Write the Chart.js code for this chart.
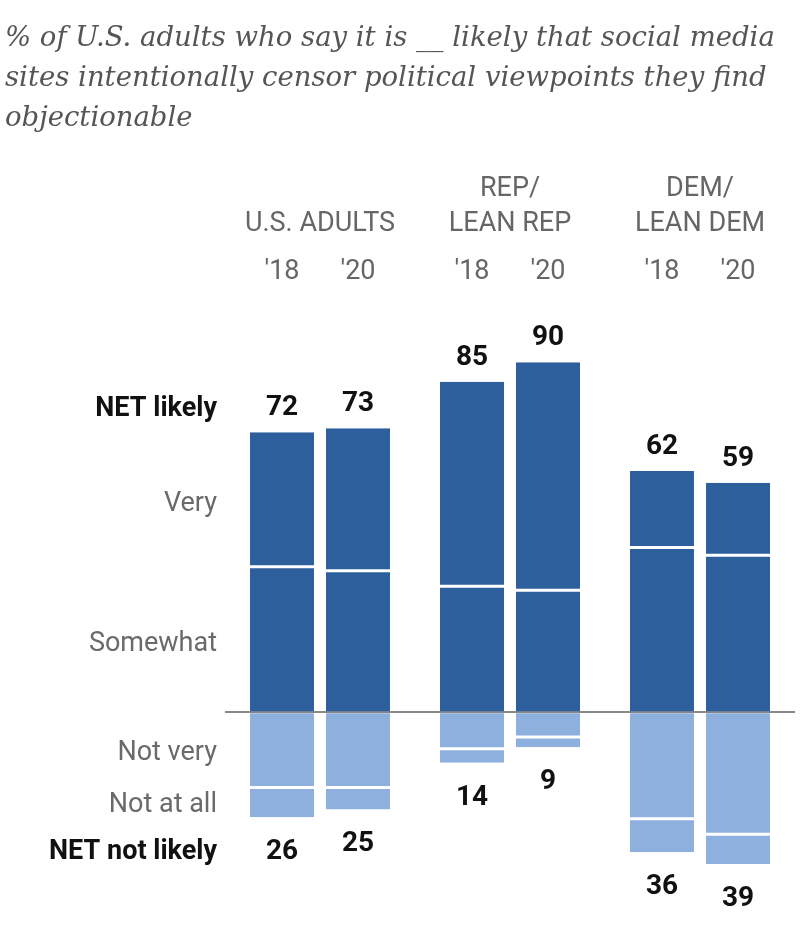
<!DOCTYPE html>
<html>
<head>
<meta charset="utf-8">
<script src="https://cdn.jsdelivr.net/npm/chart.js@4.4.1/dist/chart.umd.min.js"></script>
<style>
  html, body { margin: 0; padding: 0; background: #fff; }
  #wrap { width: 800px; height: 945px; }
</style>
</head>
<body>
<div id="wrap"><canvas id="myChart" width="800" height="945"></canvas></div>
<script>
// groups along the x axis, each one holds a '18 and a '20 column
const groups = [['U.S. ADULTS'], ['REP/', 'LEAN REP'], ['DEM/', 'LEAN DEM']];
const years = ["'18", "'20"];

// order of values: U.S. adults, Rep/lean Rep, Dem/lean Dem
const very18 = [35, 53, 20];
const somewhat18 = [37, 32, 42];
const notVery18 = [19, 9, 27];
const notAtAll18 = [8, 4, 9];
const very20 = [37, 59, 19];
const somewhat20 = [36, 31, 40];
const notVery20 = [19, 6, 31];
const notAtAll20 = [6, 3, 8];

const netLikely18 = [72, 85, 62];
const netLikely20 = [73, 90, 59];
const netNotLikely18 = [26, 14, 36];
const netNotLikely20 = [25, 9, 39];

const rowLabels = ['NET likely', 'Very', 'Somewhat', '', 'Not very', 'Not at all', 'NET not likely'];

const titleLines = [
    '% of U.S. adults who say it is __ likely that social media',
    'sites intentionally censor political viewpoints they find',
    'objectionable'
];

// row labels sit next to the first column (U.S. adults '18)
const rowTicks = [
    netLikely18[0] + 7,
    somewhat18[0] + very18[0] / 2,
    somewhat18[0] / 2,
    0,
    -notVery18[0] / 2,
    -(notVery18[0] + notAtAll18[0] / 2),
    -(netNotLikely18[0] + 9)
];

const dark = '#2c5f9c';
const light = '#8db0df';

function seg(label, values, stack, color, sign, sepSide) {
    const bw = {};
    if (sepSide) bw[sepSide] = 3;
    return {
        label: label,
        data: values.map(v => sign * v),
        stack: stack,
        backgroundColor: color,
        borderColor: 'rgba(255,255,255,0.9)',
        borderWidth: bw,
        borderSkipped: false,
        categoryPercentage: 0.8,
        barPercentage: 0.842
    };
}

const datasets = [
    seg('Somewhat', somewhat18, '18', dark, 1, null),
    seg('Very', very18, '18', dark, 1, 'bottom'),
    seg('Not very', notVery18, '18', light, -1, null),
    seg('Not at all', notAtAll18, '18', light, -1, 'top'),
    seg('Somewhat', somewhat20, '20', dark, 1, null),
    seg('Very', very20, '20', dark, 1, 'bottom'),
    seg('Not very', notVery20, '20', light, -1, null),
    seg('Not at all', notAtAll20, '20', light, -1, 'top')
];

// year over each column, NET numbers above / below the bars
const valueLabels = {
    id: 'valueLabels',
    afterDatasetsDraw(chart) {
        const ctx = chart.ctx;
        const area = chart.chartArea;
        ctx.save();
        ctx.textAlign = 'center';
        years.forEach((yr, s) => {
            const tops = chart.getDatasetMeta(s * 4 + 1).data;
            const bottoms = chart.getDatasetMeta(s * 4 + 3).data;
            const up = s === 0 ? netLikely18 : netLikely20;
            const down = s === 0 ? netNotLikely18 : netNotLikely20;
            tops.forEach((bar, i) => {
                ctx.fillStyle = '#666';
                ctx.font = '27px Roboto';
                ctx.textBaseline = 'middle';
                ctx.fillText(yr, bar.x, area.top - 28);

                ctx.fillStyle = '#111';
                ctx.font = 'bold 28px Roboto';
                ctx.textBaseline = 'alphabetic';
                ctx.fillText(String(up[i]), bar.x, bar.y - 17);
                ctx.textBaseline = 'top';
                ctx.fillText(String(down[i]), bottoms[i].x, bottoms[i].y + 21);
            });
        });
        ctx.restore();
    }
};

Chart.defaults.font.family = 'Roboto, sans-serif';

const config = {
    type: 'bar',
    data: { labels: groups, datasets: datasets },
    options: {
        responsive: false,
        animation: false,
        layout: { padding: { left: 5, right: 5, top: 0, bottom: 15 } },
        plugins: {
            legend: { display: false },
            tooltip: { enabled: false },
            title: {
                display: true,
                align: 'start',
                text: titleLines,
                color: '#555',
                font: { family: 'DejaVu Serif', style: 'italic', weight: 'normal', size: 27.5, lineHeight: 40 / 27.5 },
                padding: { top: 19, bottom: 0 }
            }
        },
        scales: {
            x: {
                stacked: true,
                position: 'top',
                grid: { display: false },
                border: { display: false },
                ticks: {
                    color: '#666',
                    font: { size: 27, lineHeight: 35 / 27 },
                    padding: 50,
                    maxRotation: 0,
                    autoSkip: false
                },
                afterFit: s => {
                    s.height = 161;
                    s.paddingLeft = 0;
                    s.paddingRight = 0;
                }
            },
            y: {
                stacked: true,
                min: -56,
                max: 106,
                afterBuildTicks: s => { s.ticks = rowTicks.map(v => ({ value: v })); },
                ticks: {
                    autoSkip: false,
                    padding: 8,
                    labelOffset: 4,
                    callback: (v, i) => rowLabels[i],
                    color: c => rowLabels[c.index] && rowLabels[c.index].startsWith('NET') ? '#111' : '#6a6a6a',
                    font: c => ({
                        size: 27,
                        weight: rowLabels[c.index] && rowLabels[c.index].startsWith('NET') ? 'bold' : 'normal'
                    })
                },
                grid: {
                    drawTicks: false,
                    lineWidth: 2,
                    color: c => (c.tick && c.tick.value === 0 ? '#888' : 'rgba(0,0,0,0)')
                },
                border: { display: false },
                afterFit: s => {
                    s.width = 220;
                    s.paddingTop = 0;
                    s.paddingBottom = 0;
                }
            }
        }
    },
    plugins: [valueLabels]
};

const myChart = new Chart(document.querySelector('#myChart'), config);
</script>
</body>
</html>
